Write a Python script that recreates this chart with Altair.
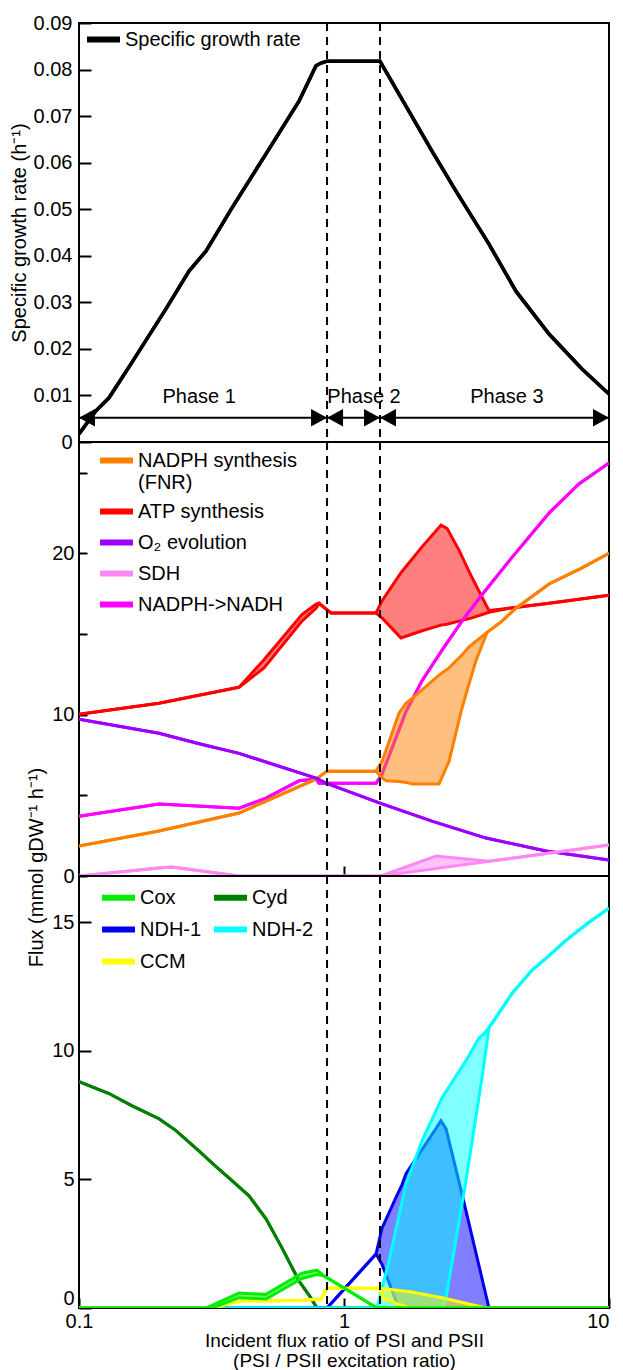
import altair as alt
import pandas as pd

FONT = "Liberation Sans"
W = 530
H_TOP, H_MID, H_BOT = 419, 434, 432

# ---------------- data ----------------
phase_bounds = [0.863, 1.367]
phase_names = ["Phase 1", "Phase 2", "Phase 3"]
phase_label_x = [0.284, 1.19, 4.12]
phase_start = [0.1, 0.863, 1.367]
phase_end = [0.863, 1.367, 10]
arrow_level = 0.0052
label_level = 0.0097

growth_x = [0.1, 0.1159, 0.1298, 0.158, 0.2129, 0.2601, 0.3013, 0.3779, 0.5078, 0.6763,
            0.784, 0.819, 0.863, 1.367, 1.613, 2.148, 2.646, 3.525, 4.454, 5.94, 7.91, 10]
growth_y = [0.0017, 0.0067, 0.0095, 0.0170, 0.0286, 0.0367, 0.0410, 0.0503, 0.0619, 0.0732,
            0.0808, 0.0814, 0.0818, 0.0818, 0.0747, 0.0625, 0.0539, 0.0425, 0.0324, 0.0232, 0.0157, 0.0103]

# middle panel (flux ranges: lo / hi)
atp_x = [0.1, 0.2004, 0.4018, 0.499, 0.694, 0.784, 0.805, 0.893, 1.321, 1.391, 1.641, 1.97,
         2.323, 2.447, 2.716, 3.041, 3.525, 4.194, 5.94, 10]
atp_hi = [10.03, 10.71, 11.70, 13.4, 16.2, 16.85, 16.9, 16.3, 16.3, 17.05, 18.8, 20.4,
          21.75, 21.55, 20.2, 18.5, 16.45, 16.6, 16.9, 17.4]
atp_lo = [10.03, 10.71, 11.70, 12.9, 15.8, 16.6, 16.9, 16.3, 16.3, 16.0, 14.75, 15.2,
          15.55, 15.6, 15.8, 16.0, 16.35, 16.6, 16.9, 17.4]

fnr_x = [0.1, 0.2004, 0.4018, 0.5078, 0.784, 0.863, 1.321, 1.391, 1.441, 1.613, 1.714, 1.806,
         2.283, 2.490, 2.787, 2.963, 3.148, 3.465, 3.947, 4.454, 5.94, 7.91, 10]
fnr_hi = [1.86, 2.79, 3.9, 4.64, 6.0, 6.5, 6.5, 7.1, 7.8, 10.1, 10.7, 11.0,
          12.45, 12.9, 13.7, 14.2, 14.55, 15.1, 15.8, 16.6, 18.1, 19.1, 20.0]
fnr_lo = [1.86, 2.79, 3.9, 4.64, 6.0, 6.5, 6.5, 6.1, 5.9, 5.85, 5.8, 5.7,
          5.7, 7.1, 10.4, 11.9, 13.35, 15.1, 15.8, 16.6, 18.1, 19.1, 20.0]

nadh_x = [0.1, 0.2004, 0.4018, 0.5078, 0.6763, 0.784, 0.805, 1.321, 1.391, 1.714, 1.97,
          2.344, 2.787, 3.232, 4.305, 5.94, 7.70, 10]
nadh_v = [3.7, 4.46, 4.2, 4.83, 5.9, 6.0, 5.75, 5.75, 6.3, 10.2, 12.1,
          14.0, 15.8, 17.2, 19.75, 22.5, 24.3, 25.6]

o2_x = [0.1, 0.2004, 0.284, 0.4018, 0.784, 0.8554, 1.367, 2.148, 3.435, 5.785, 10]
o2_v = [9.72, 8.85, 8.2, 7.6, 6.07, 5.76, 4.52, 3.4, 2.35, 1.55, 0.99]

sdh_x = [0.1, 0.2004, 0.224, 0.4018, 1.380, 2.225, 3.525, 10]
sdh_hi = [0, 0.5, 0.55, 0, 0, 1.24, 0.91, 1.93]
sdh_lo = [0, 0.5, 0.55, 0, 0, 0.46, 0.91, 1.93]

# bottom panel
cyd_x = [0.1, 0.1298, 0.158, 0.2004, 0.2323, 0.284, 0.3289, 0.3779, 0.438, 0.5078,
         0.5834, 0.6763, 0.738, 0.7909, 10]
cyd_v = [8.8, 8.34, 7.87, 7.36, 6.9, 6.1, 5.5, 4.95, 4.36, 3.47, 2.34, 1.05, 0.5, 0, 0]

cox_x = [0.1, 0.3013, 0.3176, 0.4018, 0.5078, 0.694, 0.7909, 0.8406, 1.332, 10]
cox_hi = [0, 0, 0.1, 0.58, 0.53, 1.35, 1.47, 1.25, 0, 0]
cox_lo = [0, 0, 0, 0.4, 0.35, 1.15, 1.3, 1.25, 0, 0]

ccm_x = [0.1, 0.3176, 0.4018, 0.5078, 0.694, 0.819, 0.863, 1.356, 1.416, 1.714, 1.758,
         2.344, 3.435, 10]
ccm_hi = [0, 0, 0.27, 0.27, 0.3, 0.35, 0.77, 0.77, 0.75, 0.65, 0.64, 0.4, 0, 0]
ccm_lo = [0, 0, 0.27, 0.27, 0.3, 0.35, 0.77, 0.77, 0.35, 0.05, 0, 0, 0, 0]

ndh1_x = [0.1, 0.863, 1.321, 1.391, 1.571, 1.656, 1.714, 2.039, 2.323, 2.427, 2.787, 3.525, 10]
ndh1_hi = [0, 0, 2.1, 3.1, 4.3, 4.8, 5.22, 6.39, 7.28, 6.97, 4.44, 0, 0]
ndh1_lo = [0, 0, 2.1, 1.7, 0.27, 0, 0, 0, 0, 0, 0, 0, 0]

ndh2_x = [0.1, 1.332, 1.478, 1.714, 1.97, 2.344, 2.427, 2.886, 3.232, 3.318, 3.525,
          4.305, 5.121, 5.94, 6.88, 8.406, 10]
ndh2_hi = [0, 0, 1.83, 4.83, 6.5, 8.18, 8.42, 9.62, 10.5, 10.6, 10.9,
           12.23, 13.13, 13.7, 14.3, 15.0, 15.55]
ndh2_lo = [0, 0, 0, 0, 0, 0, 0.39, 4.95, 8.2, 8.96, 10.9,
           12.23, 13.13, 13.7, 14.3, 15.0, 15.55]

top_names = ["Specific growth rate"]
top_colors = ["black"]
mid_names = ["NADPH synthesis (FNR)", "ATP synthesis", "O\u2082 evolution", "SDH", "NADPH->NADH"]
mid_colors = ["#ff8000", "#ff0000", "#9d00ff", "#ff88f4", "#ff00ff"]
# legend fills its two columns top-to-bottom, so this order reads
# Cox  Cyd / NDH-1  NDH-2 / CCM across the rows
bot_names = ["Cox", "NDH-1", "CCM", "Cyd", "NDH-2"]
bot_colors = ["#00ee00", "#0000ee", "#ffff00", "#007f00", "#00ffff"]


# ---------------- helpers ----------------
def lines_df(name, xs, lo, hi=None):
    if hi is None:
        hi = lo
    rows = []
    for bound, vals in (("lo", lo), ("hi", hi)):
        for x, v in zip(xs, vals):
            rows.append({"x": x, "v": v, "bound": bound, "series": name})
    return pd.DataFrame(rows)


def area_df(name, xs, lo, hi):
    return pd.DataFrame({"x": xs, "lo": lo, "hi": hi, "series": name})


x_scale = alt.Scale(type="log", domain=[0.1, 10], nice=False)

LEGEND_SYMBOL = "M-2,0L2,0"  # horizontal stroke, 33 px long at size 272


def make_legend(x, y, **kw):
    return alt.Legend(title=None, orient="none", legendX=x, legendY=y,
                      symbolType=LEGEND_SYMBOL, symbolStrokeWidth=6, symbolSize=272,
                      labelFont=FONT, labelFontSize=20, labelOffset=10, padding=0,
                      labelLimit=600, labelColor="black", **kw)


class Panel:
    def __init__(self, xaxis, yscale, yaxis, color):
        self.xaxis = xaxis
        self.yscale = yscale
        self.yaxis = yaxis
        self.color = color
        self.layers = []

    def X(self, field="x:Q"):
        return alt.X(field, scale=x_scale, axis=self.xaxis)

    def Y(self, field):
        return alt.Y(field, scale=self.yscale, axis=self.yaxis)

    def area(self, name, xs, lo, hi, fill):
        self.layers.append(
            alt.Chart(area_df(name, xs, lo, hi)).mark_area(color=fill, opacity=0.5, clip=True)
            .encode(x=self.X(), y=self.Y("lo:Q"), y2="hi:Q"))

    def lines(self, name, xs, lo, hi=None, width=3):
        self.layers.append(
            alt.Chart(lines_df(name, xs, lo, hi)).mark_line(strokeWidth=width, clip=True)
            .encode(x=self.X(), y=self.Y("v:Q"), color=self.color, detail="bound:N"))

    def dashes(self):
        self.layers.append(
            alt.Chart(pd.DataFrame({"x": phase_bounds}))
            .mark_rule(strokeDash=[8, 6], strokeWidth=2, color="black")
            .encode(x=self.X()))


# ---------------- top panel ----------------
top = Panel(
    xaxis=None,
    yscale=alt.Scale(domain=[0, 0.09], nice=False),
    yaxis=alt.Axis(values=[0, 0.01, 0.02, 0.03, 0.04, 0.05, 0.06, 0.07, 0.08, 0.09],
                   labelExpr="datum.value == 0 ? '0' : format(datum.value, '.2f')",
                   title="Specific growth rate (h\u207b\u00b9)", offset=-12, tickSize=12,
                   labelPadding=7, titlePadding=4),
    color=alt.Color("series:N", scale=alt.Scale(domain=top_names, range=top_colors),
                    legend=make_legend(13, 5)),
)
top.lines(top_names[0], growth_x, growth_y, width=3.5)
phase_df = pd.DataFrame({"name": phase_names, "lx": phase_label_x, "x0": phase_start,
                         "x1": phase_end, "ly": label_level, "ay": arrow_level})
top.layers.append(
    alt.Chart(phase_df).mark_rule(color="black", strokeWidth=2)
    .encode(x=top.X("x0:Q"), x2="x1:Q", y=top.Y("ay:Q")))
top.layers.append(
    alt.Chart(phase_df).mark_point(shape="M0,0L-2,-1.1L-2,1.1Z", filled=True, size=256,
                                   opacity=1, color="black", strokeWidth=0)
    .encode(x=top.X("x1:Q"), y=top.Y("ay:Q")))
top.layers.append(
    alt.Chart(phase_df).mark_point(shape="M0,0L2,-1.1L2,1.1Z", filled=True, size=256,
                                   opacity=1, color="black", strokeWidth=0)
    .encode(x=top.X("x0:Q"), y=top.Y("ay:Q")))
top.layers.append(
    alt.Chart(phase_df).mark_text(font=FONT, fontSize=20, color="black", align="center",
                                  baseline="middle")
    .encode(x=top.X("lx:Q"), y=top.Y("ly:Q"), text="name:N"))
top.dashes()

# ---------------- middle panel ----------------
mid = Panel(
    xaxis=alt.Axis(values=[1], labels=False, title=None, offset=-10, tickSize=10),
    yscale=alt.Scale(domain=[0, 26.9], nice=False),
    yaxis=alt.Axis(values=[0, 5, 10, 15, 20, 25],
                   labelExpr="datum.value % 10 == 0 ? datum.label : ''",
                   title="Flux (mmol gDW\u207b\u00b9 h\u207b\u00b9)", titleY=425,
                   offset=-8, tickSize=8, labelPadding=5, titlePadding=5),
    color=alt.Color("series:N", scale=alt.Scale(domain=mid_names, range=mid_colors),
                    legend=make_legend(
                        26, 7, rowPadding=6,
                        labelExpr="datum.label == 'NADPH synthesis (FNR)' ? "
                                  "['NADPH synthesis', '(FNR)'] : datum.label")),
)
mid.area(mid_names[1], atp_x, atp_lo, atp_hi, "#ff0000")
mid.lines(mid_names[1], atp_x, atp_lo, atp_hi)
mid.lines(mid_names[4], nadh_x, nadh_v)
mid.area(mid_names[0], fnr_x, fnr_lo, fnr_hi, "#ff8000")
mid.lines(mid_names[0], fnr_x, fnr_lo, fnr_hi)
mid.lines(mid_names[2], o2_x, o2_v)
mid.area(mid_names[3], sdh_x, sdh_lo, sdh_hi, "#ff88f4")
mid.lines(mid_names[3], sdh_x, sdh_lo, sdh_hi)
mid.dashes()

# ---------------- bottom panel ----------------
bot = Panel(
    xaxis=alt.Axis(values=[0.1, 1, 10], format="~g", labelFlush=False,
                   labelAlign={"condition": {"test": "datum.value >= 10", "value": "right"},
                               "value": "center"},
                   title=["Incident flux ratio of PSI and PSII", "(PSI / PSII excitation ratio)"],
                   titleFontSize=19, titleLineHeight=20, titlePadding=0, labelPadding=3,
                   offset=-10, tickSize=10),
    yscale=alt.Scale(domain=[0, 16.8], nice=False),
    yaxis=alt.Axis(values=[0, 5, 10, 15], title=None, offset=-12, tickSize=12, labelPadding=5,
                   labelFlush=True),
    color=alt.Color("series:N", scale=alt.Scale(domain=bot_names, range=bot_colors),
                    legend=make_legend(28, 10, columns=2, columnPadding=0, rowPadding=7)),
)
bot.lines("Cyd", cyd_x, cyd_v)
bot.area("NDH-1", ndh1_x, ndh1_lo, ndh1_hi, "#0000ff")
bot.lines("NDH-1", ndh1_x, ndh1_lo, ndh1_hi)
bot.area("NDH-2", ndh2_x, ndh2_lo, ndh2_hi, "#00ffff")
bot.lines("NDH-2", ndh2_x, ndh2_lo, ndh2_hi)
bot.area("CCM", ccm_x, ccm_lo, ccm_hi, "#ffff00")
bot.lines("CCM", ccm_x, ccm_lo, ccm_hi)
bot.area("Cox", cox_x, cox_lo, cox_hi, "#00ee00")
bot.lines("Cox", cox_x, cox_lo, cox_hi)
bot.dashes()

top_chart = alt.layer(*top.layers).properties(width=W, height=H_TOP)
mid_chart = alt.layer(*mid.layers).properties(width=W, height=H_MID)
bot_chart = alt.layer(*bot.layers).properties(width=W, height=H_BOT)

chart = (
    alt.vconcat(top_chart, mid_chart, bot_chart, spacing=0, bounds="flush")
    .resolve_scale(color="independent")
    .properties(padding={"left": 0, "top": 4, "right": 0, "bottom": 0})
    .configure_view(stroke="black", strokeWidth=2)
    .configure_axis(labelFont=FONT, titleFont=FONT, labelFontSize=20, titleFontSize=20,
                    labelColor="black", titleColor="black", tickColor="black", tickWidth=2,
                    domain=False, grid=False, titleFontWeight="normal")
)

chart.save("out.html", embed_options={"renderer": "svg", "actions": False})
